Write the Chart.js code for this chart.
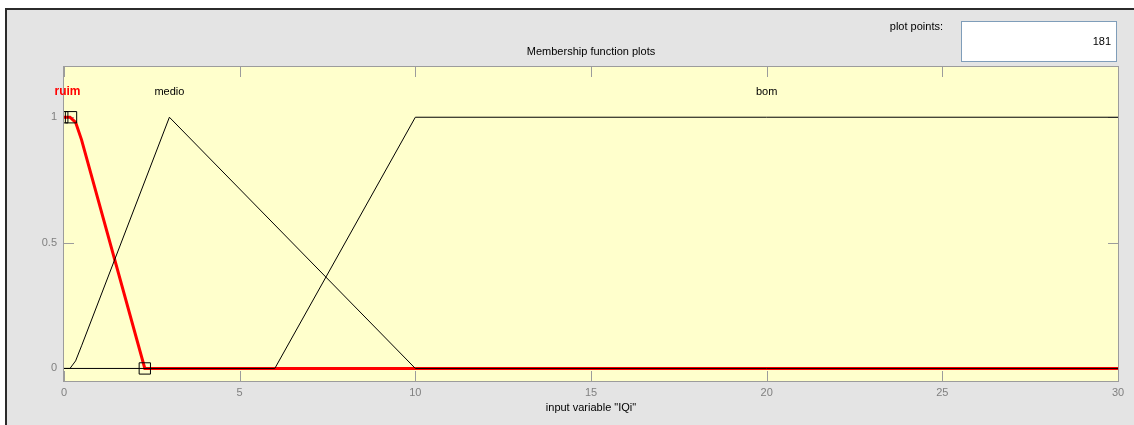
<!DOCTYPE html>
<html>
<head>
<meta charset="utf-8">
<script src="https://cdn.jsdelivr.net/npm/chart.js@4/dist/chart.umd.min.js"></script>
<style>
  html, body { margin: 0; padding: 0; background: #ffffff; }
  canvas { display: block; }
</style>
</head>
<body>
<canvas id="mf" width="1134" height="425"></canvas>
<script>
// Membership functions of the input variable "IQi" (181 plot points on [0, 30])
const xTicks = [0, 5, 10, 15, 20, 25, 30];
const yTicks = [0, 0.5, 1];

const ruimX = [0, 0.17, 0.33, 0.5, 2.3, 30];
const ruimY = [1, 1, 0.98, 0.91, 0, 0];

const medioX = [0, 0.17, 0.33, 0.5, 3, 10, 30];
const medioY = [0, 0, 0.03, 0.09, 1, 0, 0];

const bomX = [0, 6, 10, 30];
const bomY = [0, 0, 1, 1];

// vertex handles of the selected function (ruim)
const handleX = [-0.05, 0.2, 2.3];
const handleY = [1, 1, 0];

const mfNames = ['ruim', 'medio', 'bom'];
const mfLabelX = [0.1, 3, 20];
const mfLabelY = [1.1, 1.1, 1.1];

const plotPoints = '181';

const toPts = (xs, ys) => xs.map((x, i) => ({ x: x, y: ys[i] }));

const FONT = '"Liberation Sans", Arial, sans-serif';
const AXIS_GRAY = '#9c9c9c';
const TICK_GRAY = '#808080';

const framePlugin = {
  id: 'frame',
  beforeDraw(chart) {
    const ctx = chart.ctx;
    const W = chart.width, H = chart.height;
    const a = chart.chartArea;
    ctx.save();
    ctx.fillStyle = '#ffffff';
    ctx.fillRect(0, 0, W, H);
    ctx.fillStyle = '#e4e4e4';
    ctx.fillRect(6, 9, W - 6, H - 9);
    ctx.fillStyle = '#2b2b2b';
    ctx.fillRect(5, 8, W - 5, 2);
    ctx.fillRect(5, 8, 2, H - 8);
    // plot background
    ctx.fillStyle = '#ffffcc';
    ctx.fillRect(a.left, a.top, a.right - a.left, a.bottom - a.top);
    ctx.restore();
  },
  beforeDatasetsDraw(chart) {
    const ctx = chart.ctx;
    const a = chart.chartArea;
    const xs = chart.scales.x, ys = chart.scales.y;
    ctx.save();
    // inward tick marks, under the curves
    ctx.strokeStyle = AXIS_GRAY;
    ctx.lineWidth = 1;
    ctx.beginPath();
    xTicks.forEach(v => {
      const px = Math.round(xs.getPixelForValue(v)) + 0.5;
      ctx.moveTo(px, a.bottom); ctx.lineTo(px, a.bottom - 10);
      ctx.moveTo(px, a.top); ctx.lineTo(px, a.top + 10);
    });
    yTicks.forEach(v => {
      const py = Math.round(ys.getPixelForValue(v)) + 0.5;
      ctx.moveTo(a.left, py); ctx.lineTo(a.left + 10, py);
      ctx.moveTo(a.right, py); ctx.lineTo(a.right - 10, py);
    });
    ctx.stroke();
    ctx.restore();
  },
  afterDraw(chart) {
    const ctx = chart.ctx;
    const a = chart.chartArea;
    const xs = chart.scales.x, ys = chart.scales.y;
    ctx.save();
    // axes box
    ctx.strokeStyle = AXIS_GRAY;
    ctx.lineWidth = 1;
    ctx.strokeRect(a.left - 0.5, a.top - 0.5, a.right - a.left + 1, a.bottom - a.top + 1);

    // function names
    ctx.textAlign = 'center';
    ctx.textBaseline = 'middle';
    mfNames.forEach((name, i) => {
      const sel = i === 0;
      ctx.font = (sel ? 'bold 12px ' : '11px ') + FONT;
      ctx.fillStyle = sel ? '#ff0000' : '#000000';
      ctx.fillText(name, xs.getPixelForValue(mfLabelX[i]), ys.getPixelForValue(mfLabelY[i]));
    });

    // titles
    const cx = (a.left + a.right) / 2;
    ctx.font = '11px ' + FONT;
    ctx.fillStyle = '#000000';
    ctx.fillText('Membership function plots', cx, 52);
    ctx.fillText('input variable "IQi"', cx, 408);

    // plot points control
    ctx.textAlign = 'right';
    ctx.fillText('plot points:', 943, 27);
    ctx.fillStyle = '#ffffff';
    ctx.fillRect(961, 21, 155, 41);
    ctx.strokeStyle = '#7f9db9';
    ctx.strokeRect(961.5, 21.5, 155, 40);
    ctx.fillStyle = '#000000';
    ctx.fillText(plotPoints, 1111, 42);
    ctx.restore();
  }
};

new Chart(document.getElementById('mf'), {
  type: 'scatter',
  data: {
    datasets: [
      {
        label: 'handles',
        data: toPts(handleX, handleY),
        showLine: false,
        pointStyle: 'rect',
        pointRadius: 8,
        pointBorderWidth: 1,
        pointBorderColor: '#000000',
        pointBackgroundColor: 'rgba(0,0,0,0)',
        clip: 0,
        order: 0
      },
      {
        label: 'medio',
        data: toPts(medioX, medioY),
        showLine: true,
        borderColor: '#000000',
        borderWidth: 1,
        pointRadius: 0,
        order: 1
      },
      {
        label: 'bom',
        data: toPts(bomX, bomY),
        showLine: true,
        borderColor: '#000000',
        borderWidth: 1,
        pointRadius: 0,
        order: 1
      },
      {
        label: 'ruim',
        data: toPts(ruimX, ruimY),
        showLine: true,
        borderColor: '#ff0000',
        borderWidth: 3,
        pointRadius: 0,
        order: 2
      }
    ]
  },
  options: {
    responsive: false,
    animation: false,
    events: [],
    layout: { padding: { top: 67, right: 16, left: 0, bottom: 0 } },
    plugins: { legend: { display: false }, tooltip: { enabled: false } },
    scales: {
      x: {
        type: 'linear',
        min: 0, max: 30,
        afterBuildTicks: s => { s.ticks = xTicks.map(v => ({ value: v })); },
        afterFit: s => { s.height = 44; },
        grid: { display: false, drawTicks: false },
        border: { display: false },
        ticks: { color: TICK_GRAY, font: { family: FONT, size: 11 }, padding: 5, maxRotation: 0,
                 callback: v => String(v) }
      },
      y: {
        type: 'linear',
        min: -0.05, max: 1.2,
        afterBuildTicks: s => { s.ticks = yTicks.map(v => ({ value: v })); },
        afterFit: s => { s.width = 64; },
        grid: { display: false, drawTicks: false },
        border: { display: false },
        ticks: { color: TICK_GRAY, font: { family: FONT, size: 11 }, padding: 7,
                 callback: v => String(v) }
      }
    }
  },
  plugins: [framePlugin]
});
</script>
</body>
</html>
